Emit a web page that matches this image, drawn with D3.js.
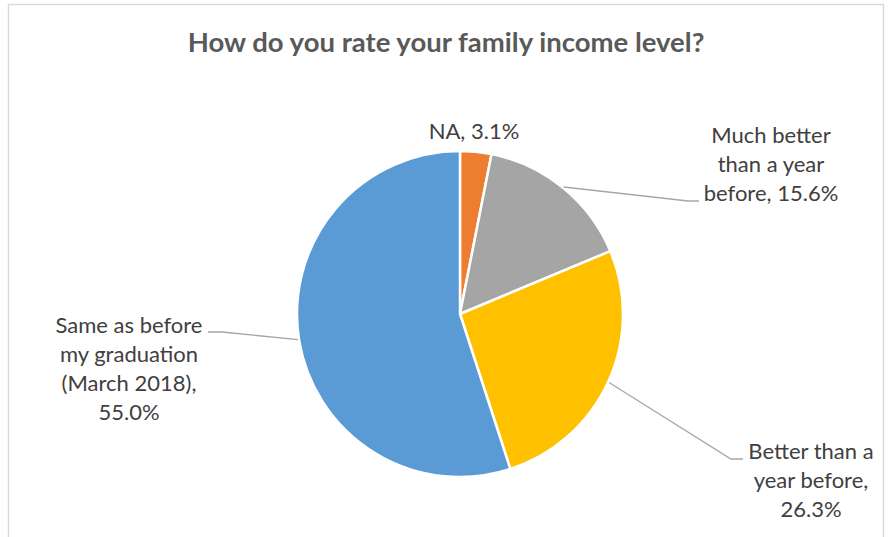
<!DOCTYPE html>
<html>
<head>
<meta charset="utf-8">
<script src="https://cdn.jsdelivr.net/npm/d3@7"></script>
<style>
  body { margin: 0; background: #fff; }
  svg { display: block; }
</style>
</head>
<body>
<div class="chart"></div>
<script>
// data (clockwise from 12 o'clock)
var categories = ["NA", "Much better than a year before", "Better than a year before", "Same as before my graduation (March 2018)"];
var shares = [3.1, 15.6, 26.3, 55.0];
var labelLines = [
    ["NA, 3.1%"],
    ["Much better", "than a year", "before, 15.6%"],
    ["Better than a", "year before,", "26.3%"],
    ["Same as before", "my graduation", "(March 2018),", "55.0%"]
];
var colors = ["#ED7D31", "#A5A5A5", "#FFC000", "#5B9BD5"];

var W = 890, H = 537
var cx = 460, cy = 314, R = 163

// where each label sits: text centre, first baseline, leader elbow and end
var labelPos = [
    {x: 474, y: 139},
    {x: 771, y: 143, elbow: [688, 201], end: 699},
    {x: 811, y: 459, elbow: [731, 459], end: 743},
    {x: 129, y: 333, elbow: [222, 332], end: 208}
];

var svg = d3.select(".chart").append("svg")
    .attr("width", W)
    .attr("height", H)

svg.append("rect")
    .attr("x", 8.5).attr("y", 4.5)
    .attr("width", 875).attr("height", H + 10)
    .attr("fill", "none")
    .attr("stroke", "#D9D9D9")
    .attr("stroke-width", 1.5)

svg.append("text")
    .attr("x", 446)
    .attr("y", 52)
    .attr("text-anchor", "middle")
    .style("font-family", "Lato, 'Open Sans', sans-serif")
    .style("font-weight", "bold")
    .style("font-size", "27.5px")
    .style("fill", "#595959")
    .text("How do you rate your family income level?")

var pie = d3.pie().sort(null).value(function(d){ return d; })
var arcs = pie(shares)

var arc = d3.arc().innerRadius(0).outerRadius(R)

var g = svg.append("g").attr("transform", "translate(" + cx + "," + cy + ")")

g.selectAll(".slice")
    .data(arcs).enter().append("path")
        .attr("class", "slice")
        .attr("d", arc)
        .attr("fill", function(d, i){ return colors[i]; })
        .attr("stroke", "#fff")
        .attr("stroke-width", 2.5)
        .attr("stroke-linejoin", "round")

// leader lines
arcs.forEach(function(d, i) {
    var p = labelPos[i]
    if (!p.elbow) return;
    var a = (d.startAngle + d.endAngle) / 2
    var sx = cx + (R + 1) * Math.sin(a), sy = cy - (R + 1) * Math.cos(a)
    svg.append("polyline")
        .attr("points", [[sx, sy], p.elbow, [p.end, p.elbow[1]]].map(function(q){ return q.join(","); }).join(" "))
        .attr("fill", "none")
        .attr("stroke", "#A6A6A6")
        .attr("stroke-width", 1.3)
})

// labels
labelLines.forEach(function(lines, i) {
    var p = labelPos[i]
    var t = svg.append("text")
        .attr("text-anchor", "middle")
        .style("font-family", "Lato, 'Open Sans', sans-serif")
        .style("font-size", "22px")
        .style("fill", "#404040")
    lines.forEach(function(s, k) {
        t.append("tspan")
            .attr("x", p.x)
            .attr("y", p.y + k * 29)
            .text(s)
    })
})
</script>
</body>
</html>
